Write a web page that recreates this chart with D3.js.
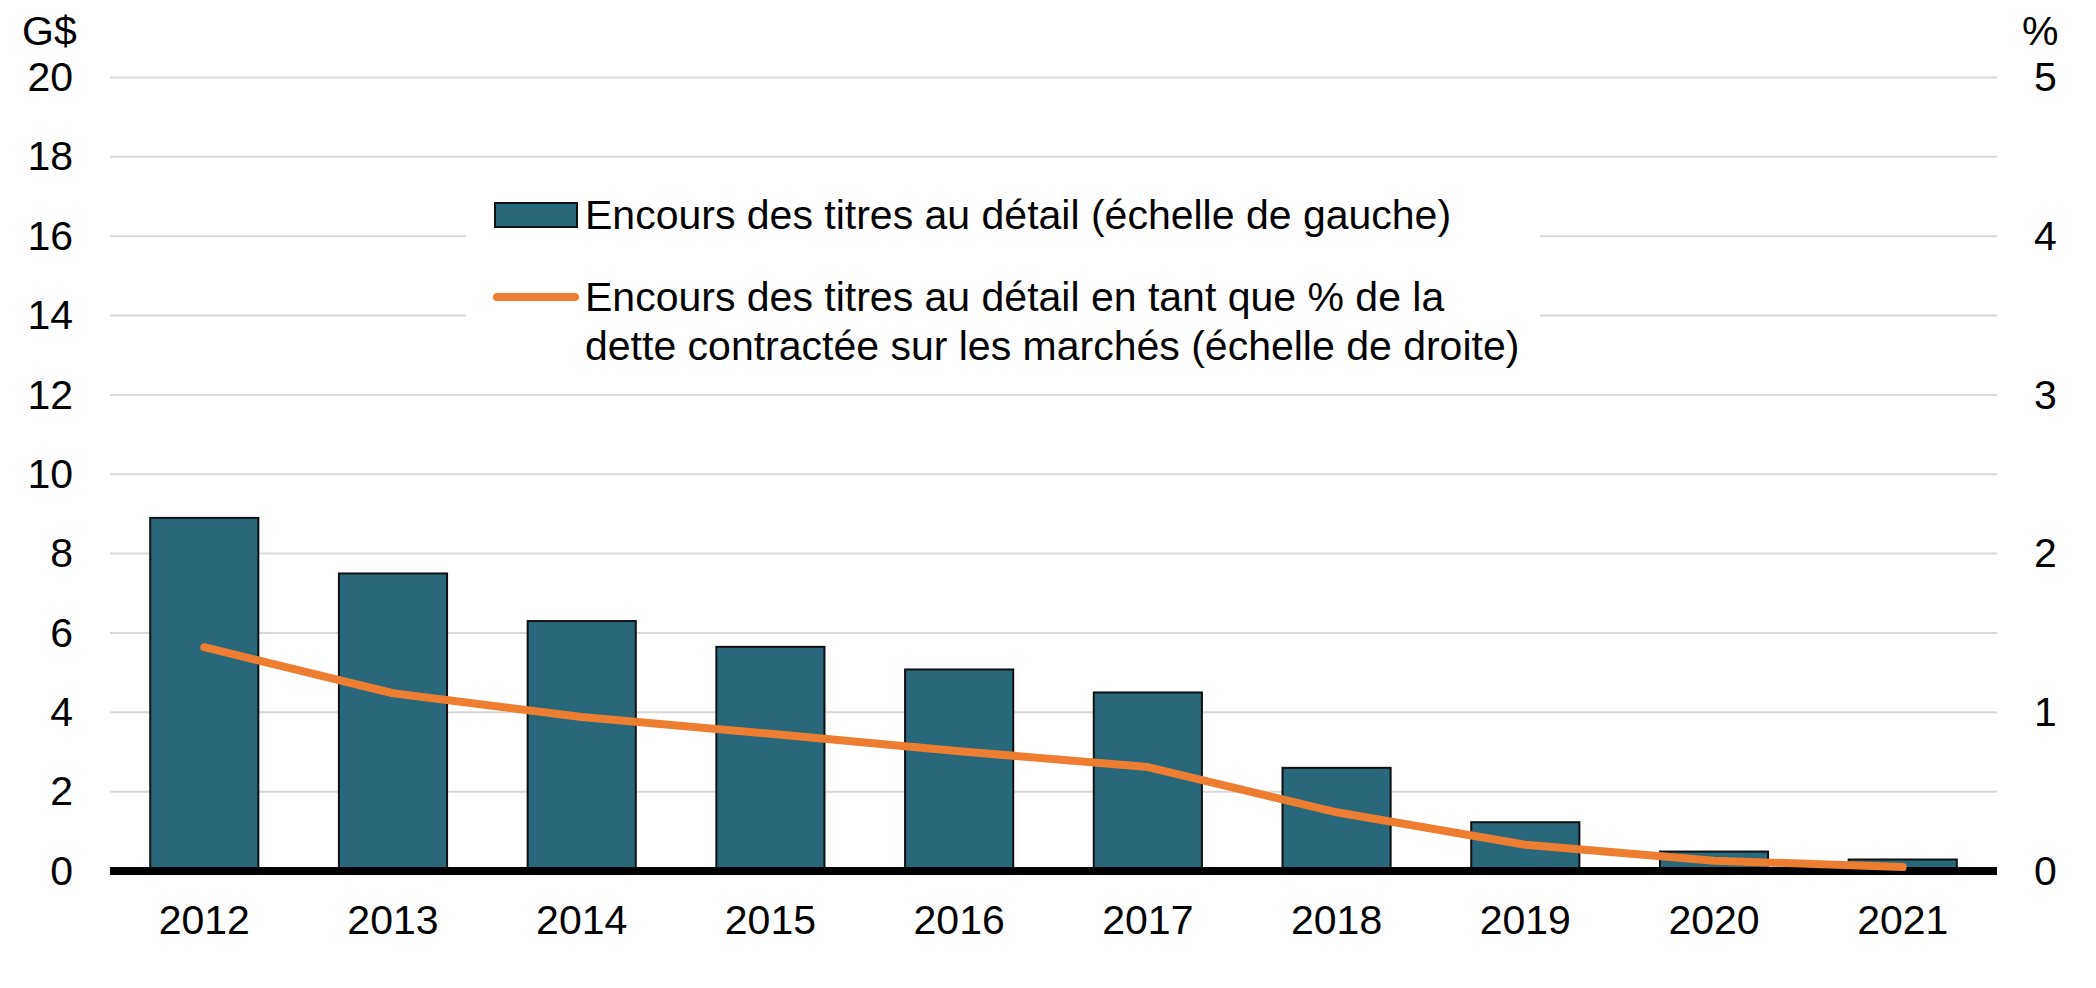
<!DOCTYPE html>
<html>
<head>
<meta charset="utf-8">
<style>
body {margin: 0; background: #fff;}
text {font-family: "Liberation Sans", Arial, sans-serif; fill: #000;}
</style>
<script src="https://d3js.org/d3.v7.min.js"></script>
</head>
<body>
<svg id="vis" width="2096" height="988"></svg>
<script>
// data
var years = ["2012","2013","2014","2015","2016","2017","2018","2019","2020","2021"];
var encours = [8.9, 7.5, 6.3, 5.65, 5.08, 4.5, 2.6, 1.23, 0.49, 0.29];     // G$, left scale
var pctDette = [1.41, 1.12, 0.97, 0.865, 0.755, 0.655, 0.37, 0.165, 0.065, 0.025]; // %, right scale
var leftTicks = [0, 2, 4, 6, 8, 10, 12, 14, 16, 18, 20];
var rightTicks = [0, 1, 2, 3, 4, 5];
var legendBar = "Encours des titres au détail (échelle de gauche)";
var legendLine = ["Encours des titres au détail en tant que % de la",
                  "dette contractée sur les marchés (échelle de droite)"];

var svg = d3.select("#vis");
var x0 = 110, x1 = 1997, yTop = 77.5, yBot = 871;

var x = d3.scaleBand().domain(years).range([x0, x1]).paddingInner(0.427).paddingOuter(0.213);
var yL = d3.scaleLinear().domain([0, 20]).range([yBot, yTop]);
var yR = d3.scaleLinear().domain([0, 5]).range([yBot, yTop]);

// gridlines
svg.append("g").selectAll("line")
  .data(leftTicks.filter(function(d){ return d > 0; }))
  .enter().append("line")
    .attr("x1", x0).attr("x2", x1)
    .attr("y1", function(d){ return yL(d); })
    .attr("y2", function(d){ return yL(d); })
    .style("stroke", "#d9d9d9").style("stroke-width", 2);

// left axis
var axL = svg.append("g").attr("transform", "translate(73,0)")
  .call(d3.axisLeft(yL).tickValues(leftTicks).tickFormat(d3.format("d")).tickSize(0).tickPadding(0));
axL.select(".domain").remove();
axL.selectAll("text").style("font-size", "41px").attr("dy", "0.32em");

// right axis
var axR = svg.append("g").attr("transform", "translate(2034,0)")
  .call(d3.axisRight(yR).tickValues(rightTicks).tickFormat(d3.format("d")).tickSize(0).tickPadding(0));
axR.select(".domain").remove();
axR.selectAll("text").style("font-size", "41px").attr("dy", "0.32em");

svg.append("text").attr("x", 22).attr("y", 45).style("font-size", "41px").text("G$");
svg.append("text").attr("x", 2022).attr("y", 45).style("font-size", "41px").text("%");

// legend background hides the gridlines behind it
svg.append("rect").attr("x", 466).attr("y", 180).attr("width", 1074).attr("height", 190)
  .style("fill", "#fff");

// bars
svg.append("g").selectAll("rect")
  .data(encours)
  .enter().append("rect")
    .attr("x", function(d, i){ return x(years[i]); })
    .attr("width", x.bandwidth())
    .attr("y", function(d){ return yL(d); })
    .attr("height", function(d){ return yL(0) - yL(d); })
    .style("fill", "#29677a").style("stroke", "#111").style("stroke-width", 2);

// x axis
var axX = svg.append("g").attr("transform", "translate(0," + yBot + ")")
  .call(d3.axisBottom(x).tickSize(0).tickPadding(34));
axX.select(".domain").remove();
axX.selectAll("text").style("font-size", "41px");
svg.append("line").attr("x1", x0).attr("x2", x1).attr("y1", yBot).attr("y2", yBot)
  .style("stroke", "#000").style("stroke-width", 8);

// line
var line = d3.line()
  .x(function(d, i){ return x(years[i]) + x.bandwidth() / 2; })
  .y(function(d){ return yR(d); });
svg.append("path").datum(pctDette)
  .attr("d", line)
  .style("fill", "none").style("stroke", "#ed7d31").style("stroke-width", 8)
  .style("stroke-linecap", "round").style("stroke-linejoin", "round");

// legend
var lg = svg.append("g");
lg.append("rect").attr("x", 495).attr("y", 203).attr("width", 82).attr("height", 24)
  .style("fill", "#29677a").style("stroke", "#111").style("stroke-width", 2);
lg.append("text").attr("x", 585).attr("y", 229).style("font-size", "41px").text(legendBar);
lg.append("line").attr("x1", 497).attr("x2", 575).attr("y1", 297).attr("y2", 297)
  .style("stroke", "#ed7d31").style("stroke-width", 8).style("stroke-linecap", "round");
lg.selectAll("text.l2").data(legendLine).enter().append("text")
  .attr("class", "l2")
  .attr("x", 585)
  .attr("y", function(d, i){ return 311 + i * 49; })
  .style("font-size", "41px")
  .text(function(d){ return d; });
</script>
</body>
</html>
